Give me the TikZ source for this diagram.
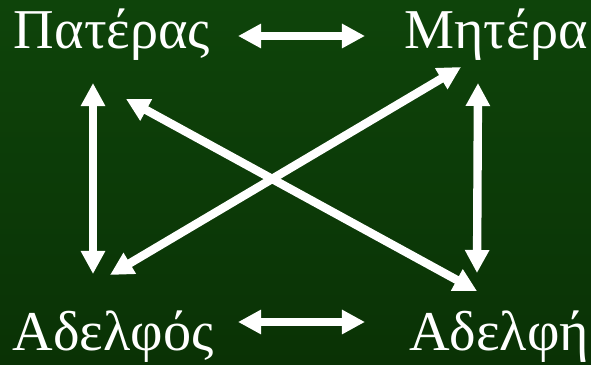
\documentclass[tikz,border=0pt]{standalone}
\usepackage{fontspec}
\setmainfont{Liberation Serif}
\usetikzlibrary{arrows.meta,calc}
\definecolor{bgtop}{RGB}{14,68,10}
\definecolor{bgbot}{RGB}{10,50,5}

\begin{document}
\begin{tikzpicture}[x=0.025cm,y=-0.025cm,
    member/.style={white, anchor=base, inner sep=0pt, font=\fontsize{40}{48}\selectfont},
    link/.style={white, line width=0.21cm, {Triangle[length=0.575cm,width=0.575cm]}-{Triangle[length=0.575cm,width=0.575cm]}}]
  % Background
  \shade[top color=bgtop, bottom color=bgbot] (0,0) rectangle (591,365);
  \useasboundingbox (0,0) rectangle (591,365);

  % Family members
  \node[member] (pateras) at (112,49) {Πατέρας};
  \node[member] (mitera) at (496,49) {Μητέρα};
  \node[member] (adelfos) at (113,351) {Αδελφός};
  \node[member] (adelfi) at (499,351) {Αδελφή};

  % Horizontal links
  \draw[link] ([shift={(126,-13)}]pateras.base) -- ([shift={(-131,-13)}]mitera.base);
  \draw[link] ([shift={(125,-29)}]adelfos.base) -- ([shift={(-134,-29)}]adelfi.base);

  % Vertical links
  \draw[link] ([shift={(-19,34)}]pateras.base) -- ([shift={(-20,-77)}]adelfos.base);
  \draw[link] ([shift={(-18,34)}]mitera.base) -- ([shift={(-22,-78)}]adelfi.base);

  % Diagonal links
  \draw[link] ([shift={(14,50)}]pateras.base) -- ([shift={(-22,-60)}]adelfi.base);
  \draw[link] ([shift={(-35,18)}]mitera.base) -- ([shift={(-3,-76)}]adelfos.base);
\end{tikzpicture}
\end{document}
